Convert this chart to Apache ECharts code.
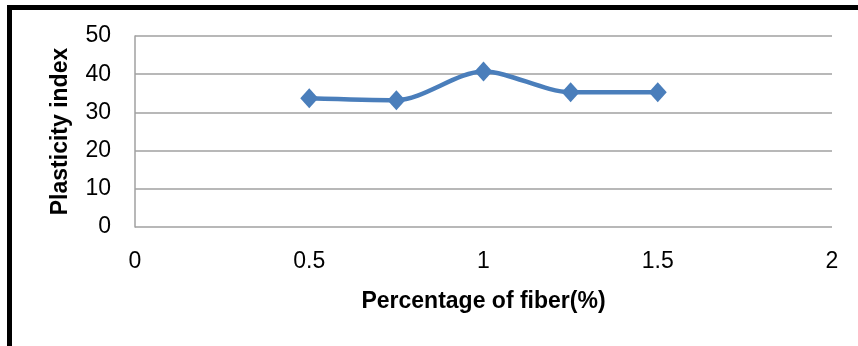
<!DOCTYPE html>
<html><head><meta charset="utf-8">
<script src="https://cdn.jsdelivr.net/npm/echarts@6/dist/echarts.min.js"></script>
<style>html,body{margin:0;padding:0;background:#fff}#c{width:858px;height:346px}</style>
</head><body><div id="c"></div>
<script>
const fiberPct = [0.5, 0.75, 1, 1.25, 1.5];
const plasticityIndex = [33.7, 33.2, 40.7, 35.3, 35.3];
const xTicks = [0, 0.5, 1, 1.5, 2];
const yTicks = [0, 10, 20, 30, 40, 50];
const xTitle = 'Percentage of fiber(%)';
const yTitle = 'Plasticity index';

const FONT = '"Liberation Sans", Arial, sans-serif';
const chart = echarts.init(document.getElementById('c'), null, {renderer: 'canvas'});
chart.setOption({
  animation: false,
  backgroundColor: '#fff',
  grid: {left: 135, right: 26, top: 36, bottom: 119, containLabel: false},
  xAxis: {
    type: 'value', min: xTicks[0], max: xTicks[xTicks.length - 1], interval: 0.5,
    name: xTitle, nameLocation: 'middle', nameGap: 63,
    nameTextStyle: {fontFamily: FONT, fontWeight: 'bold', fontSize: 23, color: '#000'},
    axisLine: {show: false}, axisTick: {show: false},
    splitLine: {show: false},
    axisLabel: {fontFamily: FONT, fontSize: 23, color: '#000', margin: 23}
  },
  yAxis: {
    type: 'value', min: yTicks[0], max: yTicks[yTicks.length - 1], interval: 10,
    name: yTitle, nameLocation: 'middle', nameGap: 63, nameRotate: 90,
    nameTextStyle: {fontFamily: FONT, fontWeight: 'bold', fontSize: 23, color: '#000'},
    axisLine: {show: true, lineStyle: {color: '#a0a0a0', width: 1.5}}, axisTick: {show: false},
    splitLine: {show: true, lineStyle: {color: '#a0a0a0', width: 1.5}},
    axisLabel: {fontFamily: FONT, fontSize: 23, color: '#000', margin: 24}
  },
  series: [{
    type: 'line', smooth: 0.3,
    data: fiberPct.map((x, i) => [x, plasticityIndex[i]]),
    symbol: 'diamond', symbolSize: [18, 20],
    lineStyle: {color: '#4a7ebb', width: 4.5},
    itemStyle: {color: '#4a7ebb'}
  }],
  graphic: [
    {type: 'rect', shape: {x: 7, y: 5, width: 851, height: 5}, style: {fill: '#000'}},
    {type: 'rect', shape: {x: 7, y: 5, width: 5, height: 341}, style: {fill: '#000'}}
  ]
});
</script></body></html>
